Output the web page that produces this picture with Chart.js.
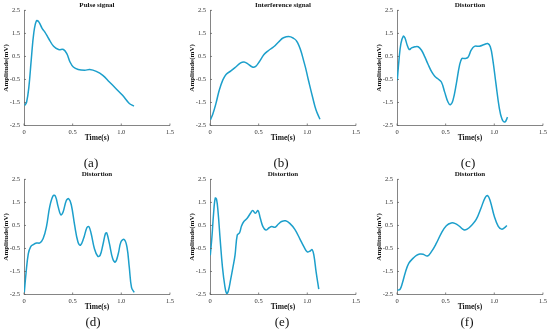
<!DOCTYPE html>
<html>
<head>
<meta charset="utf-8">
<script src="https://cdn.jsdelivr.net/npm/chart.js@4.4.1/dist/chart.umd.min.js"></script>
<style>
  body { margin: 0; background: #fff; }
  #wrap { position: relative; width: 550px; height: 333px; overflow: hidden; }
  .panel { position: absolute; width: 177px; height: 143px; }
  .tag { position: absolute; width: 40px; margin-left: -20px; text-align: center;
         font-family: "Liberation Serif", serif; font-size: 13px; color: #111; line-height: 14px;
         filter: grayscale(1); will-change: transform; }
</style>
</head>
<body>
<div id="wrap">
  <div class="panel" style="left:0px;top:0px"><canvas id="c0" width="177" height="143"></canvas></div>
  <div class="panel" style="left:186px;top:0px"><canvas id="c1" width="177" height="143"></canvas></div>
  <div class="panel" style="left:373px;top:0px"><canvas id="c2" width="177" height="143"></canvas></div>
  <div class="panel" style="left:0px;top:169px"><canvas id="c3" width="177" height="143"></canvas></div>
  <div class="panel" style="left:186px;top:169px"><canvas id="c4" width="177" height="143"></canvas></div>
  <div class="panel" style="left:373px;top:169px"><canvas id="c5" width="177" height="143"></canvas></div>
  <div class="tag" style="left:91px;top:156px">(a)</div>
  <div class="tag" style="left:281px;top:156px">(b)</div>
  <div class="tag" style="left:468px;top:156px">(c)</div>
  <div class="tag" style="left:93px;top:315px">(d)</div>
  <div class="tag" style="left:282px;top:315px">(e)</div>
  <div class="tag" style="left:467px;top:315px">(f)</div>
</div>
<script>
// tick labels
const xTicks = [0, 0.5, 1, 1.5];
const yTicks = [-2.5, -1.5, -0.5, 0.5, 1.5, 2.5];

const titles = ['Pulse signal', 'Interference signal', 'Distortion', 'Distortion', 'Distortion', 'Distortion'];

// (a) pulse signal
const pulseT = [0.007, 0.027, 0.05, 0.074, 0.10, 0.128, 0.152, 0.186, 0.213, 0.253, 0.304, 0.355, 0.405, 0.44, 0.473, 0.507, 0.557, 0.625, 0.676, 0.743, 0.81, 0.878, 0.946, 1.013, 1.08, 1.13];
const pulseV = [-1.63, -1.48, -0.83, 0.33, 1.5, 2.05, 2.0, 1.72, 1.57, 1.28, 0.94, 0.80, 0.80, 0.62, 0.26, 0.04, -0.07, -0.1, -0.07, -0.15, -0.32, -0.61, -0.90, -1.19, -1.53, -1.66];

// (b) interference signal
const interT = [0.005, 0.03, 0.06, 0.095, 0.13, 0.165, 0.215, 0.265, 0.315, 0.35, 0.385, 0.435, 0.47, 0.505, 0.555, 0.605, 0.655, 0.705, 0.755, 0.83, 0.90, 0.97, 1.01, 1.054, 1.09, 1.13];
const interV = [-2.25, -1.99, -1.56, -0.97, -0.54, -0.28, -0.13, 0.04, 0.22, 0.26, 0.19, 0.04, 0.07, 0.26, 0.58, 0.77, 0.92, 1.13, 1.31, 1.35, 1.1, 0.2, -0.5, -1.26, -1.83, -2.23];

// (c) distortion
const distCT = [0.003, 0.02, 0.04, 0.065, 0.08, 0.105, 0.126, 0.15, 0.184, 0.218, 0.252, 0.286, 0.32, 0.354, 0.388, 0.42, 0.456, 0.49, 0.524, 0.548, 0.575, 0.61, 0.643, 0.667, 0.694, 0.728, 0.762, 0.796, 0.847, 0.898, 0.932, 0.959, 0.983, 1.017, 1.05, 1.078, 1.109, 1.136];
const distCV = [-0.54, 0.33, 1.06, 1.38, 1.32, 0.99, 0.80, 0.87, 0.92, 0.92, 0.77, 0.48, 0.15, -0.15, -0.36, -0.47, -0.61, -1.05, -1.48, -1.60, -1.41, -0.68, 0.12, 0.41, 0.41, 0.45, 0.77, 0.94, 0.94, 1.02, 1.06, 0.92, 0.41, -0.68, -1.70, -2.21, -2.35, -2.14];

// (d) distortion
const distDT = [0.003, 0.02, 0.044, 0.068, 0.095, 0.129, 0.163, 0.197, 0.231, 0.265, 0.3, 0.323, 0.35, 0.378, 0.40, 0.435, 0.459, 0.486, 0.52, 0.554, 0.58, 0.612, 0.646, 0.667, 0.69, 0.724, 0.758, 0.782, 0.81, 0.837, 0.85, 0.878, 0.912, 0.939, 0.969, 0.997, 1.03, 1.058, 1.082, 1.105, 1.133];
const distDV = [-2.41, -1.61, -0.73, -0.43, -0.33, -0.26, -0.26, -0.07, 0.45, 1.33, 1.80, 1.77, 1.33, 0.96, 1.06, 1.58, 1.66, 1.40, 0.52, -0.21, -0.36, -0.07, 0.40, 0.45, 0.15, -0.51, -0.84, -0.80, -0.36, 0.15, 0.18, -0.29, -0.95, -1.09, -0.73, -0.21, -0.11, -0.43, -1.31, -2.19, -2.41];

// (e) distortion
const distET = [0.003, 0.02, 0.037, 0.054, 0.068, 0.084, 0.105, 0.128, 0.152, 0.172, 0.189, 0.213, 0.236, 0.257, 0.28, 0.304, 0.324, 0.348, 0.382, 0.416, 0.439, 0.466, 0.493, 0.517, 0.544, 0.574, 0.608, 0.635, 0.669, 0.703, 0.736, 0.777, 0.82, 0.872, 0.922, 0.966, 1.0, 1.03, 1.05, 1.068, 1.091, 1.118];
const distEV = [-0.80, 0.01, 1.03, 1.69, 1.62, 1.03, -0.14, -1.31, -2.12, -2.46, -2.34, -1.83, -1.31, -0.80, 0.08, 0.18, 0.48, 0.67, 0.81, 1.03, 1.15, 1.03, 1.15, 0.81, 0.45, 0.30, 0.40, 0.45, 0.42, 0.56, 0.67, 0.70, 0.59, 0.33, -0.07, -0.43, -0.65, -0.61, -0.55, -0.80, -1.53, -2.27];

// (f) distortion
const distFT = [0.003, 0.03, 0.054, 0.088, 0.122, 0.167, 0.2, 0.235, 0.269, 0.313, 0.354, 0.405, 0.456, 0.507, 0.558, 0.6, 0.643, 0.687, 0.721, 0.762, 0.813, 0.864, 0.905, 0.932, 0.959, 1.0, 1.041, 1.075, 1.102, 1.129];
const distFV = [-2.31, -2.28, -2.02, -1.51, -1.14, -0.92, -0.80, -0.74, -0.75, -0.83, -0.64, -0.27, 0.17, 0.49, 0.61, 0.58, 0.46, 0.31, 0.34, 0.49, 0.75, 1.26, 1.70, 1.80, 1.55, 0.90, 0.46, 0.34, 0.39, 0.50];

const series = [
    [pulseT, pulseV],
    [interT, interV],
    [distCT, distCV],
    [distDT, distDV],
    [distET, distEV],
    [distFT, distFV]
];

const lineColor = '#1c9fcb';
const axisColor = '#666';
const serif = '"Liberation Serif", "DejaVu Serif", serif';

// small inward tick marks on both axes
const innerTicks = {
    id: 'innerTicks',
    afterDraw(chart) {
        const ctx = chart.ctx;
        const xs = chart.scales.x, ys = chart.scales.y;
        ctx.save();
        ctx.strokeStyle = axisColor;
        ctx.lineWidth = 0.8;
        ctx.beginPath();
        xTicks.forEach(v => {
            const px = xs.getPixelForValue(v);
            ctx.moveTo(px, ys.bottom);
            ctx.lineTo(px, ys.bottom - 2);
        });
        yTicks.forEach(v => {
            const py = ys.getPixelForValue(v);
            ctx.moveTo(xs.left, py);
            ctx.lineTo(xs.left + 2, py);
        });
        ctx.stroke();
        ctx.restore();
    }
};

series.forEach((s, i) => {
    const pts = s[0].map((t, k) => ({ x: t, y: s[1][k] }));
    new Chart(document.getElementById('c' + i), {
        type: 'line',
        data: {
            datasets: [{
                data: pts,
                borderColor: lineColor,
                borderWidth: 1.5,
                pointRadius: 0,
                tension: 0.4,
                fill: false
            }]
        },
        options: {
            responsive: false,
            animation: false,
            events: [],
            layout: { padding: { left: 0, right: 6, top: 0, bottom: 0 } },
            plugins: {
                legend: { display: false },
                tooltip: { enabled: false },
                title: {
                    display: true,
                    fullSize: false,
                    text: titles[i],
                    color: '#111',
                    font: { family: serif, size: 7, weight: 'bold' },
                    padding: { top: 1, bottom: 1 }
                }
            },
            scales: {
                x: {
                    type: 'linear',
                    min: 0,
                    max: 1.5,
                    afterBuildTicks: sc => { sc.ticks = xTicks.map(v => ({ value: v })); },
                    afterFit: sc => { sc.height = 17.5; },
                    grid: { display: false, drawTicks: false },
                    border: { display: true, color: axisColor, width: 0.8 },
                    ticks: { color: '#333', padding: 3, maxRotation: 0, font: { family: serif, size: 6.5 } },
                    title: { display: true, text: 'Time(s)', color: '#111', padding: { top: 1, bottom: 0 },
                             font: { family: serif, size: 7.5, weight: 'bold' } }
                },
                y: {
                    min: -2.5,
                    max: 2.5,
                    afterBuildTicks: sc => { sc.ticks = yTicks.map(v => ({ value: v })); },
                    afterFit: sc => { sc.width = 24; },
                    grid: { display: false, drawTicks: false },
                    border: { display: true, color: axisColor, width: 0.8 },
                    ticks: { color: '#333', padding: 4, font: { family: serif, size: 6.5 } },
                    title: { display: true, text: 'Amplitude(mV)', color: '#111', padding: { top: 2, bottom: 0 },
                             font: { family: serif, size: 7, weight: 'bold' } }
                }
            }
        },
        plugins: [innerTicks]
    });
});
</script>
</body>
</html>
